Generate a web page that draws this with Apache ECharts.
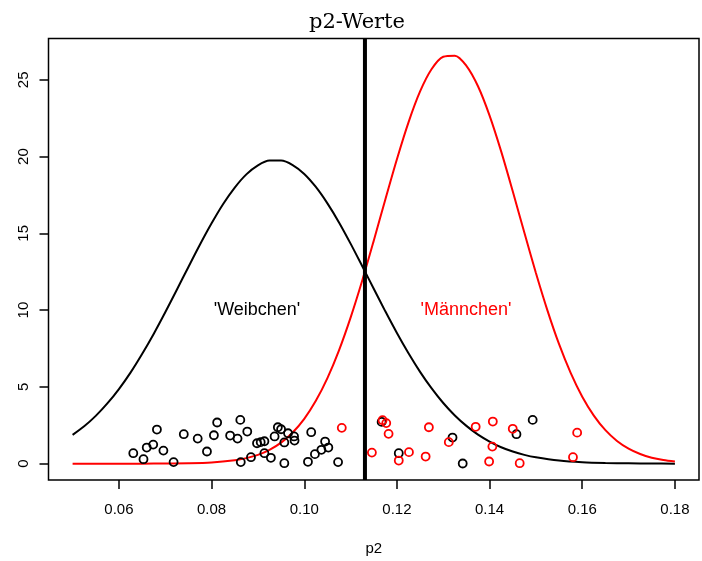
<!DOCTYPE html>
<html>
<head>
<meta charset="utf-8">
<script src="https://cdn.jsdelivr.net/npm/echarts@6/dist/echarts.min.js"></script>
<style>html,body{margin:0;padding:0;background:#fff;}#c{width:702px;height:561px;}</style>
</head>
<body>
<div id="c"></div>
<script>
// Density curve of females (black)
const weibX = [0.0500,0.0525,0.0550,0.0575,0.0600,0.0625,0.0650,0.0675,0.0700,0.0725,0.0750,0.0775,0.0800,0.0825,0.0850,0.0875,0.0900,0.0925,0.0950,0.0975,0.1000,0.1025,0.1050,0.1075,0.1100,0.1125,0.1150,0.1175,0.1200,0.1225,0.1250,0.1275,0.1300,0.1325,0.1350,0.1375,0.1400,0.1425,0.1450,0.1475,0.1500,0.1550,0.1600,0.1650,0.1700,0.1750,0.1800];
const weibY = [1.87,2.43,3.11,3.92,4.86,5.93,7.14,8.45,9.86,11.33,12.81,14.27,15.65,16.91,17.98,18.84,19.43,19.74,19.74,19.45,18.87,18.02,16.95,15.71,14.33,12.87,11.39,9.92,8.51,7.19,5.98,4.90,3.95,3.14,2.46,1.89,1.44,1.07,0.79,0.57,0.41,0.20,0.09,0.04,0.02,0.01,0.00];
// Density curve of males (red)
const maennX = [0.0500,0.0550,0.0600,0.0650,0.0700,0.0750,0.0800,0.0850,0.0875,0.0900,0.0925,0.0950,0.0975,0.1000,0.1025,0.1050,0.1075,0.1100,0.1125,0.1150,0.1175,0.1200,0.1225,0.1250,0.1275,0.1300,0.1325,0.1350,0.1375,0.1400,0.1425,0.1450,0.1475,0.1500,0.1525,0.1550,0.1575,0.1600,0.1625,0.1650,0.1675,0.1700,0.1725,0.1750,0.1775,0.1800];
const maennY = [0.00,0.00,0.00,0.00,0.01,0.02,0.07,0.22,0.36,0.57,0.90,1.37,2.03,2.92,4.09,5.57,7.38,9.51,11.91,14.52,17.21,19.83,22.23,24.24,25.70,26.50,26.57,25.91,24.58,22.67,20.34,17.74,15.05,12.42,9.97,7.78,5.91,4.36,3.13,2.18,1.48,0.98,0.63,0.39,0.24,0.14];
// Observed points (black)
const ptsBlackX = [0.0631,0.0653,0.0660,0.0674,0.0682,0.0696,0.0718,0.0740,0.0770,0.0790,0.0805,0.0812,0.0840,0.0856,0.0862,0.0863,0.0877,0.0885,0.0898,0.0906,0.0914,0.0914,0.0928,0.0936,0.0943,0.0950,0.0957,0.0957,0.0965,0.0978,0.0979,0.1008,0.1015,0.1023,0.1037,0.1045,0.1052,0.1073,0.1167,0.1204,0.1320,0.1342,0.1458,0.1493];
const ptsBlackY = [0.68,0.29,1.05,1.24,2.22,0.85,0.10,1.92,1.63,0.79,1.85,2.68,1.83,1.63,2.85,0.10,2.09,0.42,1.33,1.40,1.46,0.68,0.38,1.77,2.37,2.24,1.38,0.03,1.98,1.77,1.50,0.12,2.05,0.62,0.90,1.44,1.05,0.10,2.72,0.68,1.70,0.01,1.92,2.85];
// Observed points (red)
const ptsRedX = [0.1081,0.1146,0.1169,0.1177,0.1182,0.1204,0.1226,0.1262,0.1269,0.1312,0.1370,0.1399,0.1406,0.1407,0.1450,0.1465,0.1580,0.1589];
const ptsRedY = [2.33,0.72,2.83,2.64,1.94,0.20,0.75,0.46,2.37,1.40,2.40,0.14,1.11,2.74,2.27,0.03,0.42,2.02];
// Separation line
const cutX = 0.1131;
// Annotations
const labelTexts = ["'Weibchen'", "'Männchen'"];
const labelX = [0.0898, 0.1349];
const labelY = [10, 10];
const labelColors = ['#000000', '#ff0000'];
// Ticks
const xTicks = [0.06, 0.08, 0.10, 0.12, 0.14, 0.16, 0.18];
const yTicks = [0, 5, 10, 15, 20, 25];

const X_MIN = 0.0448, X_MAX = 0.1852, Y_MIN = -1.065, Y_MAX = 27.69;
const zip = (a, b) => a.map((v, i) => [v, b[i]]);
const FONT = 'Liberation Sans, Arial, sans-serif';

const chart = echarts.init(document.getElementById('c'), null, {renderer: 'canvas'});
chart.setOption({
  animation: false,
  backgroundColor: '#ffffff',
  graphic: [{
    type: 'text', x: 357, y: 12,
    style: {text: 'p2-Werte', fontFamily: 'DejaVu Serif, Liberation Serif, serif', fontSize: 21, fill: '#000', align: 'center', verticalAlign: 'top'}
  }],
  grid: {left: 48.5, right: 3, top: 38.5, bottom: 80.7, show: true, borderColor: '#000', borderWidth: 1.5, backgroundColor: 'transparent'},
  xAxis: {
    type: 'value', min: X_MIN, max: X_MAX,
    splitLine: {show: false},
    axisLine: {show: false, onZero: false},
    axisTick: {show: true, customValues: xTicks, length: 9, inside: false, lineStyle: {color: '#000', width: 1.5}},
    axisLabel: {customValues: xTicks, formatter: v => v.toFixed(2), margin: 22, fontSize: 15, color: '#000', fontFamily: FONT},
    name: 'p2', nameLocation: 'middle', nameGap: 61,
    nameTextStyle: {fontSize: 15, color: '#000', fontFamily: FONT}
  },
  yAxis: {
    type: 'value', min: Y_MIN, max: Y_MAX,
    splitLine: {show: false},
    axisLine: {show: false, onZero: false},
    axisTick: {show: true, customValues: yTicks, length: 9, inside: false, lineStyle: {color: '#000', width: 1.5}},
    axisLabel: {customValues: yTicks, rotate: 90, margin: 17, fontSize: 15, color: '#000', fontFamily: FONT}
  },
  series: [
    {
      type: 'line', data: zip(weibX, weibY), showSymbol: false, smooth: 0.3,
      lineStyle: {color: '#000', width: 2}, z: 3
    },
    {
      type: 'line', data: zip(maennX, maennY), showSymbol: false, smooth: 0.3,
      lineStyle: {color: '#ff0000', width: 2}, z: 3
    },
    {
      type: 'line', data: [[cutX, Y_MIN], [cutX, Y_MAX]], showSymbol: false,
      lineStyle: {color: '#000', width: 4}, z: 3
    },
    {
      type: 'scatter', data: zip(ptsBlackX, ptsBlackY), symbol: 'circle', symbolSize: 8,
      itemStyle: {color: 'rgba(0,0,0,0)', borderColor: '#000', borderWidth: 1.8, opacity: 1}, z: 4
    },
    {
      type: 'scatter', data: zip(ptsRedX, ptsRedY), symbol: 'circle', symbolSize: 8,
      itemStyle: {color: 'rgba(0,0,0,0)', borderColor: '#ff0000', borderWidth: 1.8, opacity: 1}, z: 4
    },
    {
      type: 'scatter', symbolSize: 0, z: 5, itemStyle: {opacity: 1},
      data: labelTexts.map((t, i) => ({value: [labelX[i], labelY[i]], name: t,
        label: {show: true, position: 'inside', formatter: t, color: labelColors[i], fontSize: 18, fontFamily: FONT, textBorderWidth: 0}}))
    }
  ]
});
</script>
</body>
</html>
